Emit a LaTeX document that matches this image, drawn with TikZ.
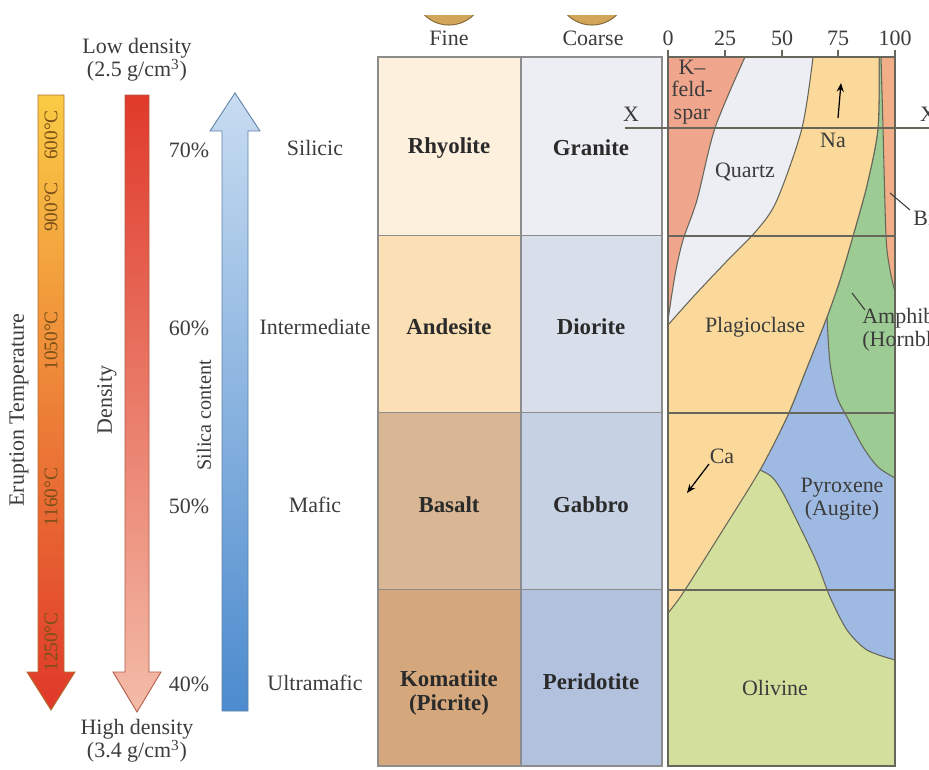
\documentclass[tikz,border=0pt]{standalone}
\usepackage{fontspec}
\setmainfont{Liberation Serif}
\usetikzlibrary{positioning,arrows.meta}

\definecolor{inkgray}{HTML}{3C3C3C}
\definecolor{rockink}{HTML}{2A2A2A}
\definecolor{cellline}{HTML}{8C8C8C}
\definecolor{chartline}{HTML}{66665A}
\definecolor{rhyfill}{HTML}{FDF0DC}
\definecolor{grafill}{HTML}{EDEEF3}
\definecolor{andfill}{HTML}{FBE0B5}
\definecolor{diofill}{HTML}{D9DFEA}
\definecolor{basfill}{HTML}{D9B794}
\definecolor{gabfill}{HTML}{C7D1E4}
\definecolor{komfill}{HTML}{D5A77D}
\definecolor{perfill}{HTML}{B2C1DD}
\definecolor{kspfill}{HTML}{EFA68C}
\definecolor{qtzfill}{HTML}{ECEEF4}
\definecolor{plagfill}{HTML}{FAD99A}
\definecolor{amphfill}{HTML}{9CCB93}
\definecolor{biofill}{HTML}{F2AE86}
\definecolor{pyxfill}{HTML}{9EBAE2}
\definecolor{olvfill}{HTML}{D3DF9C}
\definecolor{tempA}{HTML}{FACB45}
\definecolor{tempB}{HTML}{F08C30}
\definecolor{tempC}{HTML}{E0382A}
\definecolor{templine}{HTML}{B07030}
\definecolor{tempink}{HTML}{7A5018}
\definecolor{densA}{HTML}{E03A2A}
\definecolor{densB}{HTML}{F3BCA8}
\definecolor{densline}{HTML}{B05A4A}
\definecolor{silA}{HTML}{C8DCF1}
\definecolor{silB}{HTML}{4C8BCE}
\definecolor{silline}{HTML}{6080A8}
\definecolor{coinfill}{HTML}{D2A65A}
\definecolor{coinline}{HTML}{8A6E3E}

\tikzset{
  lbl/.style={font=\fontsize{12.5}{13}\selectfont,text=inkgray,inner sep=0pt,align=center},
  vlbl/.style={lbl,rotate=90},
  templbl/.style={vlbl,font=\fontsize{11}{12}\selectfont,text=tempink},
  rockname/.style={lbl,font=\fontsize{13}{13.5}\selectfont\bfseries,text=rockink},
  cellborder/.style={draw=cellline,line width=1pt},
  mineral/.style={draw=chartline,line width=0.6pt},
  rowline/.style={draw=chartline,line width=0.9pt},
  leader/.style={draw=inkgray,line width=0.6pt},
  pointer/.style={draw=black,line width=0.7pt,-{Stealth[length=5pt,width=4pt]}},
  coin/.style={fill=coinfill,draw=coinline,line width=0.6pt}
}

\begin{document}
\begin{tikzpicture}[x=0.02cm,y=-0.02cm]
  \useasboundingbox (0,0) rectangle (929,769);
  \clip (0,0) rectangle (929,769);

  % grain samples, cut off at the top
  \begin{scope}
    \clip (400,15) rectangle (640,30);
    \path[coin] (449,-10) circle[radius=35];
    \path[coin] (592,-10) circle[radius=35];
  \end{scope}
  \node[lbl] (fine) at (449,38) {Fine};
  \node[lbl] (coarse) at (593,38) {Coarse};

  % three trend arrows
  \shadedraw[top color=tempA,middle color=tempB,bottom color=tempC,draw=templine,line width=0.5pt]
    (38,95) -- (64,95) -- (64,672) -- (75,672) -- (51,710) -- (27,672) -- (38,672) -- cycle;
  \shadedraw[top color=densA,bottom color=densB,draw=densline,line width=0.5pt]
    (125,95) -- (149,95) -- (149,672) -- (161,672) -- (137,712) -- (113,672) -- (125,672) -- cycle;
  \shadedraw[top color=silA,bottom color=silB,draw=silline,line width=0.5pt]
    (235,93) -- (260,131) -- (248,131) -- (248,711) -- (222,711) -- (222,131) -- (210,131) -- cycle;

  \node[templbl] (t600) at (51,135) {600°C};
  \node[templbl] (t900) at (51,207) {900°C};
  \node[templbl] (t1050) at (51,341) {1050°C};
  \node[templbl] (t1160) at (51,497) {1160°C};
  \node[templbl] (t1250) at (51,642) {1250°C};
  \node[vlbl] (erupt) at (19,410) {Eruption Temperature};
  \node[vlbl] (dens) at (107,400) {Density};
  \node[vlbl,font=\fontsize{11.5}{12}\selectfont] (silica) at (204,415) {Silica content};

  \node[lbl] (lowd) at (137,60) {Low density\\(2.5 g/cm\textsuperscript{3})};
  \node[lbl] (highd) at (137,741) {High density\\(3.4 g/cm\textsuperscript{3})};

  % silica percentages and rock families
  \node[lbl] (p70) at (189,150) {70\%};
  \node[lbl] (p60) at (189,328) {60\%};
  \node[lbl] (p50) at (189,506) {50\%};
  \node[lbl] (p40) at (189,684) {40\%};
  \node[lbl] (silicic) at (315,148) {Silicic};
  \node[lbl] (intermed) at (315,327) {Intermediate};
  \node[lbl] (mafic) at (315,505) {Mafic};
  \node[lbl] (ultramafic) at (315,683) {Ultramafic};

  % rock table
  \foreach \ya/\yb/\fa/\fb in {57/236/rhyfill/grafill,236/413/andfill/diofill,
                               413/590/basfill/gabfill,590/766/komfill/perfill}{
    \fill[\fa] (378,\ya) rectangle (521,\yb);
    \fill[\fb] (521,\ya) rectangle (662,\yb);
    \draw[cellborder] (378,\yb) -- (662,\yb);
  }
  \draw[cellborder] (378,57) rectangle (662,766);
  \draw[cellborder] (521,57) -- (521,766);

  \node[rockname] (rhyolite) at (449,148) {Rhyolite};
  \node[rockname] (granite) at (591,148) {Granite};
  \node[rockname] (andesite) at (449,327) {Andesite};
  \node[rockname] (diorite) at (591,327) {Diorite};
  \node[rockname] (basalt) at (449,505) {Basalt};
  \node[rockname] (gabbro) at (591,505) {Gabbro};
  \node[rockname] (komatiite) at (449,693) {Komatiite\\(Picrite)};
  \node[rockname] (peridotite) at (591,682) {Peridotite};

  % mineral chart
  \filldraw[mineral,fill=olvfill] (668,57) rectangle (895,766);
  \filldraw[mineral,fill=pyxfill]
    plot[smooth] coordinates {(879,57) (878,128) (867,185) (853,236) (840,280) (827,317) (806,370) (787,417) (760,470)}
    -- plot[smooth] coordinates {(760,470) (772,477) (783,493) (800,527) (817,563) (830,597) (847,630) (867,650) (895,660)}
    -- (895,57) -- cycle;
  \filldraw[mineral,fill=amphfill]
    plot[smooth] coordinates {(879,57) (878,128) (867,185) (853,236) (840,280) (827,317)}
    -- plot[smooth] coordinates {(827,317) (830,363) (837,397) (847,417) (863,447) (878,467) (895,478)}
    -- (895,57) -- cycle;
  \filldraw[mineral,fill=biofill]
    plot[smooth] coordinates {(881,57) (883,128) (886,236) (890,270) (895,292)}
    -- (895,57) -- cycle;
  \filldraw[mineral,fill=plagfill] (668,57)
    -- plot[smooth] coordinates {(879,57) (878,128) (867,185) (853,236) (840,280) (827,317) (806,370) (787,417) (760,470) (721,533) (683,593) (668,613)}
    -- cycle;
  \filldraw[mineral,fill=qtzfill] (668,57)
    -- plot[smooth] coordinates {(813,57) (802,128) (777,200) (757,230) (725,263) (693,297) (668,325)}
    -- cycle;
  \filldraw[mineral,fill=kspfill] (668,57)
    -- plot[smooth] coordinates {(745,57) (715,128) (697,200) (683,240) (675,275) (668,320)}
    -- cycle;

  \foreach \y in {236,413,590}
    \draw[rowline] (668,\y) -- (895,\y);
  \draw[rowline] (668,57) rectangle (895,766);

  % percentage scale
  \foreach \v/\x in {0/668,25/725,50/782,75/838,100/895}{
    \draw[rowline] (\x,50) -- (\x,57);
    \node[lbl] (tick\v) at (\x,38) {\v};
  }

  % X line
  \coordinate (xa) at (625,128);
  \coordinate (xb) at (929,128);
  \draw[rowline] (xa) -- (xb);
  \node[lbl] (xleft) at (631,114) {X};
  \node[lbl] (xright) at (928,114) {X};

  % mineral names
  \node[lbl] (ksp) at (692,92) {K–\\feld-\\spar};
  \node[lbl] (quartz) at (745,172) {Quartz};
  \node[lbl] (na) at (833,140) {Na};
  \node[lbl] (plag) at (755,327) {Plagioclase};
  \node[lbl] (ca) at (722,456) {Ca};
  \node[lbl] (pyx) at (842,499) {Pyroxene\\(Augite)};
  \node[lbl] (olv) at (775,688) {Olivine};
  \node[lbl,align=left,anchor=west] (amph) at (862,330) {Amphibole\\(Hornblende)};
  \node[lbl,anchor=west] (bio) at (913,218) {Biotite};

  \coordinate (natail) at (838,118);
  \coordinate (natip) at (841,83);
  \draw[pointer] (natail) -- (natip);
  \coordinate (catail) at (709,464);
  \coordinate (catip) at (687,493);
  \draw[pointer] (catail) -- (catip);
  \coordinate (amphpt) at (852,293);
  \coordinate (amphend) at (865,310);
  \draw[leader] (amphpt) -- (amphend);
  \coordinate (biopt) at (890,193);
  \coordinate (bioend) at (910,210);
  \draw[leader] (biopt) -- (bioend);
\end{tikzpicture}
\end{document}
